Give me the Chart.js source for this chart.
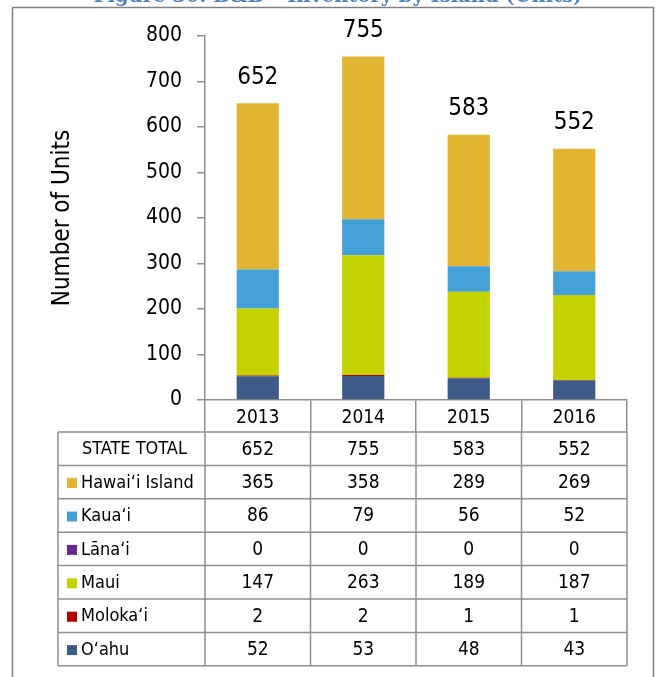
<!DOCTYPE html>
<html>
<head>
<meta charset="utf-8">
<script src="https://cdn.jsdelivr.net/npm/chart.js@4"></script>
<style>
  body { margin: 0; background: #fff; }
  #wrap { width: 657px; height: 677px; position: relative; }
</style>
</head>
<body>
<div id="wrap"><canvas id="myChart" width="657" height="677"></canvas></div>
<script>
const years = ['2013', '2014', '2015', '2016'];
const stateTotal = [652, 755, 583, 552];
const hawaii = [365, 358, 289, 269];
const kauai = [86, 79, 56, 52];
const lanai = [0, 0, 0, 0];
const maui = [147, 263, 189, 187];
const molokai = [2, 2, 1, 1];
const oahu = [52, 53, 48, 43];
const yTicks = [0, 100, 200, 300, 400, 500, 600, 700, 800];

const NARROW = "'Liberation Sans Narrow', 'DejaVu Sans Condensed', sans-serif";
const LINE = '#8f8f8f';

// table rows top to bottom, stack order is the reverse (O'ahu at the bottom)
const islands = [
    { name: 'Hawai\u02BBi Island', data: hawaii, color: '#E2B632' },
    { name: 'Kaua\u02BBi', data: kauai, color: '#43A1D8' },
    { name: 'L\u0101na\u02BBi', data: lanai, color: '#6A2B91' },
    { name: 'Maui', data: maui, color: '#C4D200' },
    { name: 'Moloka\u02BBi', data: molokai, color: '#B00000' },
    { name: 'O\u02BBahu', data: oahu, color: '#3D5A89' }
];

const frame = {
    id: 'frame',
    beforeDraw(chart) {
        const ctx = chart.ctx;
        ctx.save();
        ctx.strokeStyle = '#7f7f7f';
        ctx.lineWidth = 1.5;
        ctx.strokeRect(12.5, 7.5, 641, 700);
        // title, mostly cut off above the page
        ctx.fillStyle = '#4F81BD';
        ctx.font = "bold 19.5px 'DejaVu Serif', serif";
        ctx.textAlign = 'center';
        ctx.textBaseline = 'alphabetic';
        ctx.fillText('Figure 30: B&B \u2013 Inventory by Island (Units)', 338, 2);
        ctx.restore();
    }
};

const totals = {
    id: 'totals',
    afterDatasetsDraw(chart) {
        const ctx = chart.ctx;
        const top = chart.getDatasetMeta(chart.data.datasets.length - 1);
        ctx.save();
        ctx.fillStyle = '#000';
        ctx.font = '24px ' + NARROW;
        ctx.textAlign = 'center';
        ctx.textBaseline = 'bottom';
        top.data.forEach((bar, i) => {
            ctx.fillText(stateTotal[i], bar.x, bar.y - 14);
        });
        ctx.restore();
    }
};

const dataTable = {
    id: 'dataTable',
    afterDraw(chart) {
        const ctx = chart.ctx;
        const x = chart.scales.x;
        const area = chart.chartArea;
        const tableLeft = 58;
        const tableTop = 432;
        const rowH = 33.4;
        const rows = [{ name: 'STATE TOTAL', data: stateTotal }].concat(islands);
        const bottom = tableTop + rowH * rows.length;

        const edges = [area.left];
        for (let i = 1; i < years.length; i++)
            edges.push((x.getPixelForValue(i - 1) + x.getPixelForValue(i)) / 2);
        edges.push(area.right);

        ctx.save();
        ctx.strokeStyle = LINE;
        ctx.lineWidth = 1.5;
        ctx.beginPath();
        for (let r = 0; r <= rows.length; r++) {
            const y = tableTop + r * rowH;
            ctx.moveTo(tableLeft, y);
            ctx.lineTo(area.right, y);
        }
        ctx.moveTo(tableLeft, tableTop);
        ctx.lineTo(tableLeft, bottom);
        edges.forEach(e => {
            ctx.moveTo(e, tableTop);
            ctx.lineTo(e, bottom);
        });
        ctx.stroke();

        ctx.textBaseline = 'middle';
        rows.forEach((row, r) => {
            const cy = tableTop + r * rowH + rowH / 2 + 1;
            ctx.textAlign = 'left';
            ctx.fillStyle = '#000';
            ctx.font = '18px ' + NARROW;
            if (row.color) {
                ctx.fillStyle = row.color;
                ctx.fillRect(67, cy - 5, 10, 10);
                ctx.fillStyle = '#000';
                ctx.fillText(row.name, 81, cy);
            } else {
                ctx.fillText(row.name, 82, cy);
            }
            ctx.textAlign = 'center';
            ctx.font = '19px ' + NARROW;
            row.data.forEach((v, i) => {
                ctx.fillText(v, x.getPixelForValue(i), cy);
            });
        });
        ctx.restore();
    }
};

const ctx = document.getElementById('myChart');

new Chart(ctx, {
    type: 'bar',
    data: {
        labels: years,
        datasets: islands.slice().reverse().map(s => ({
            label: s.name,
            data: s.data,
            backgroundColor: s.color,
            borderWidth: 0,
            barPercentage: 0.4,
            categoryPercentage: 1.0
        }))
    },
    options: {
        responsive: false,
        animation: false,
        layout: { padding: { left: 0, top: 36, right: 30, bottom: 0 } },
        plugins: {
            legend: { display: false },
            tooltip: { enabled: false }
        },
        scales: {
            x: {
                stacked: true,
                afterFit(scale) { scale.height = 277; },
                grid: {
                    offset: true,
                    drawOnChartArea: false,
                    drawTicks: true,
                    tickLength: 32,
                    color: LINE,
                    lineWidth: 1.5
                },
                border: { color: LINE, width: 1.5 },
                ticks: {
                    color: '#000',
                    font: { family: NARROW, size: 19 },
                    padding: -25
                }
            },
            y: {
                stacked: true,
                min: 0,
                max: 800,
                afterFit(scale) { scale.width = 205; },
                afterBuildTicks(scale) { scale.ticks = yTicks.map(v => ({ value: v })); },
                grid: {
                    drawOnChartArea: false,
                    tickLength: 8,
                    color: LINE,
                    lineWidth: 1.5
                },
                border: { color: LINE, width: 1.5 },
                ticks: {
                    color: '#000',
                    font: { family: NARROW, size: 21 },
                    padding: 15
                },
                title: {
                    display: true,
                    text: 'Number of Units',
                    color: '#000',
                    font: { family: NARROW, size: 24 },
                    padding: { top: 48, bottom: 0 }
                }
            }
        }
    },
    plugins: [frame, totals, dataTable]
});
</script>
</body>
</html>
